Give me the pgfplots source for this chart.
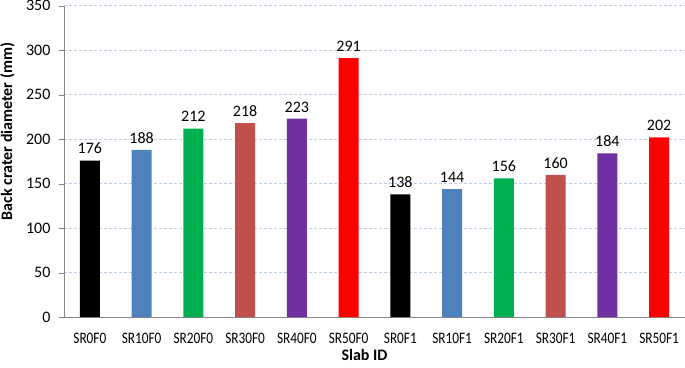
\documentclass[border=0pt]{standalone}
\usepackage{pgfplots}
\pgfplotsset{compat=1.18}
\usepackage{fontspec}
\setmainfont{Carlito}
\newfontfamily\condensed[FakeStretch=0.83]{Carlito}
\definecolor{cblue}{HTML}{4F81BD}
\definecolor{cgreen}{HTML}{00B050}
\definecolor{cbrown}{HTML}{C0504D}
\definecolor{cpurple}{HTML}{7030A0}
\definecolor{cred}{HTML}{FF0000}
\definecolor{gridc}{HTML}{B9CDE5}
\definecolor{axc}{HTML}{868686}
\begin{document}
\begin{tikzpicture}
\begin{axis}[
  scale only axis,
  width=621pt, height=311.5pt,
  ymin=0, ymax=350, ytick={0,50,...,350},
  xmin=-0.5, xmax=11.5,
  xtick={0,...,11},
  xticklabels={SR0F0,SR10F0,SR20F0,SR30F0,SR40F0,SR50F0,SR0F1,SR10F1,SR20F1,SR30F1,SR40F1,SR50F1},
  major x tick style={draw=none},
  extra x ticks={-0.5,0.5,...,11.5},
  extra x tick labels={},
  extra x tick style={major tick length=5pt, tick style={draw=axc}, tick align=outside, grid=none},
  ytick style={draw=axc}, major tick length=5pt, tick align=outside,
  axis lines*=left,
  axis line style={draw=axc, line width=0.8pt},
  ymajorgrids, grid style={dash pattern=on 3pt off 2pt, draw=gridc, line width=0.7pt},
  ybar, bar width=20pt, bar shift=0pt,
  yticklabel style={font=\fontsize{16}{18}\selectfont},
  yticklabel shift=5pt,
  xticklabel style={font=\condensed\fontsize{16}{18}\selectfont, yshift=-7pt},
  /pgf/number format/assume math mode=true,
  xlabel={\textbf{Slab ID}}, ylabel={\textbf{Back crater diameter (mm)}},
  label style={font=\fontsize{16}{18}\selectfont},
  xlabel style={yshift=11pt, xshift=-10pt},
  ylabel style={at={(rel axis cs:0,0.596)}, anchor=center, yshift=56.5pt},
  nodes near coords,
  nodes near coords style={font=\fontsize{16}{18}\selectfont, black, yshift=3pt},
  every node near coord/.append style={/pgf/number format/assume math mode=true},
  clip=false,
]
\addplot[fill=black, draw=none] coordinates {(0,176) (6,138)};
\addplot[fill=cblue, draw=none] coordinates {(1,188) (7,144)};
\addplot[fill=cgreen, draw=none] coordinates {(2,212) (8,156)};
\addplot[fill=cbrown, draw=none] coordinates {(3,218) (9,160)};
\addplot[fill=cpurple, draw=none] coordinates {(4,223) (10,184)};
\addplot[fill=cred, draw=none] coordinates {(5,291) (11,202)};
\coordinate (bl) at (rel axis cs:0,0);
\coordinate (tr) at (rel axis cs:1,1);
\end{axis}
\pgfresetboundingbox
\path ([xshift=-64pt,yshift=-50pt]bl) rectangle ([yshift=5.7pt]tr);
\end{tikzpicture}
\end{document}
